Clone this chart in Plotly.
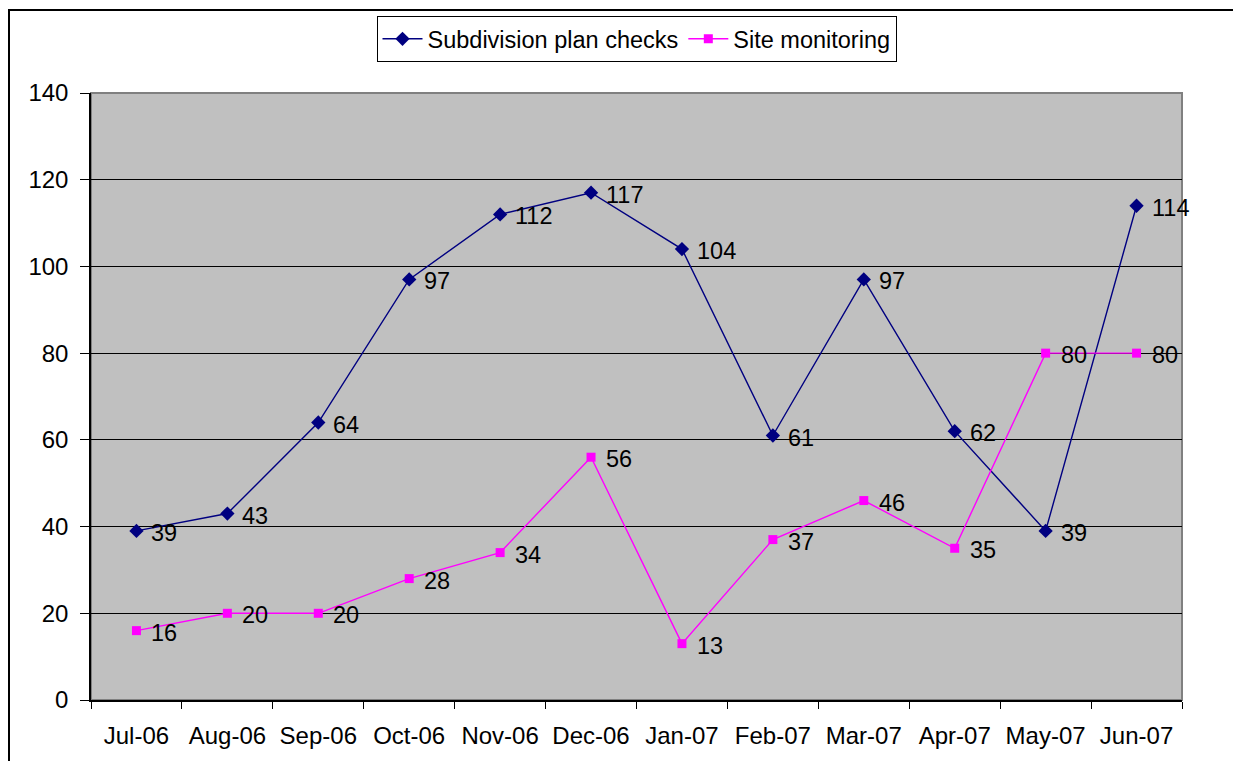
import plotly.graph_objects as go

months = ["Jul-06", "Aug-06", "Sep-06", "Oct-06", "Nov-06", "Dec-06",
          "Jan-07", "Feb-07", "Mar-07", "Apr-07", "May-07", "Jun-07"]
subdivision = [39, 43, 64, 97, 112, 117, 104, 61, 97, 62, 39, 114]
site_monitoring = [16, 20, 20, 28, 34, 56, 13, 37, 46, 35, 80, 80]
y_ticks = [0, 20, 40, 60, 80, 100, 120, 140]

W, H = 1233, 761
L, R, T, B = 91, 1182, 93, 700
PW, PH = R - L, B - T

def px_x(px):
    return (px - L) / PW

def px_y(py):
    return (B - py) / PH

FONT = "Liberation Sans, Arial, sans-serif"
FS = 24

fig = go.Figure()
fig.add_trace(go.Scatter(
    x=months, y=subdivision, mode="lines+markers", name="Subdivision plan checks",
    line=dict(color="#000080", width=1.4),
    marker=dict(symbol="diamond", size=11, color="#000080"),
))
fig.add_trace(go.Scatter(
    x=months, y=site_monitoring, mode="lines+markers", name="Site monitoring",
    line=dict(color="#FF00FF", width=1.4),
    marker=dict(symbol="square", size=9, color="#FF00FF"),
))

annotations = []
for series in (subdivision, site_monitoring):
    for m, v in zip(months, series):
        annotations.append(dict(
            x=m, y=v, text=str(v), showarrow=False, xanchor="left", yanchor="middle",
            xshift=13, yshift=-2, font=dict(family=FONT, size=FS - 0.5, color="black"),
        ))

shapes = [
    dict(type="rect", xref="paper", yref="paper", x0=0, x1=1, y0=0, y1=1,
         line=dict(color="#808080", width=2), layer="below"),
    dict(type="rect", xref="paper", yref="paper",
         x0=px_x(9), x1=px_x(W + 20), y0=px_y(10), y1=px_y(H + 20),
         line=dict(color="black", width=2)),
]

fig.update_layout(
    width=W, height=H,
    margin=dict(l=L, r=W - R, t=T, b=H - B, pad=0),
    paper_bgcolor="white", plot_bgcolor="#C0C0C0",
    font=dict(family=FONT, size=FS, color="black"),
    showlegend=True,
    legend=dict(orientation="h", x=0.5, xanchor="center", y=px_y(16), yanchor="top",
                bordercolor="black", borderwidth=1, bgcolor="white",
                font=dict(family=FONT, size=FS - 0.5), itemwidth=40, tracegroupgap=0),
    annotations=annotations,
    shapes=shapes,
    xaxis=dict(type="category", categoryorder="array", categoryarray=months,
               tickson="boundaries", ticks="outside", ticklen=7, tickcolor="black",
               showline=True, linecolor="black", linewidth=1.5, showgrid=False,
               ticklabelstandoff=13, tickfont=dict(family=FONT, size=FS),
               range=[-0.5, len(months) - 0.5]),
    yaxis=dict(range=[0, 140], tickvals=y_ticks, ticks="outside", ticklen=9,
               tickcolor="black", showline=True, linecolor="black", linewidth=1.5,
               showgrid=True, gridcolor="black", gridwidth=1.2, zeroline=False,
               ticklabelstandoff=7, tickfont=dict(family=FONT, size=FS)),
)

fig.write_html("out.html", config={"displayModeBar": False},
               post_script="document.body.style.margin='0';document.body.style.overflow='hidden';")
